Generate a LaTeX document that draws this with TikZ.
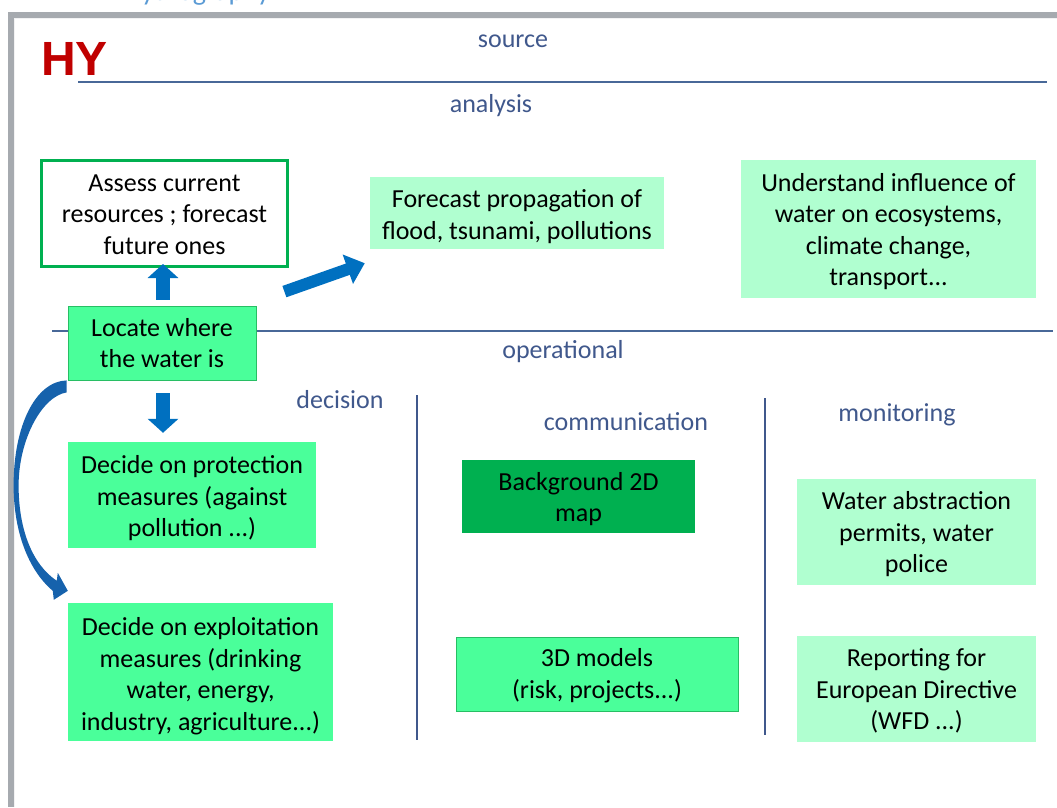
\documentclass[tikz,border=0pt]{standalone}
\usepackage{fontspec}
\setmainfont{Carlito}
\newfontfamily\hyfont{Liberation Sans}
\usetikzlibrary{arrows.meta}
\definecolor{lblue}{RGB}{64,88,140}
\definecolor{rulec}{RGB}{72,104,152}
\definecolor{mint}{RGB}{176,255,208}
\definecolor{mgreen}{RGB}{74,255,154}
\definecolor{dgreen}{RGB}{0,176,80}
\definecolor{bordg}{RGB}{40,190,100}
\definecolor{arrowb}{RGB}{0,112,192}
\definecolor{carrowb}{RGB}{22,98,172}
\definecolor{framec}{RGB}{166,170,175}
\definecolor{topblue}{RGB}{91,155,213}
\definecolor{hyred}{RGB}{192,0,0}
\newcommand\bxfont{\fontsize{26}{31.5}\selectfont}
\newcommand\lowtext[2][3pt]{\raisebox{-#1}[\height][\depth]{\begin{tabular}{@{}c@{}}#2\end{tabular}}}
\tikzset{
  box/.style={align=center, inner sep=0pt, font=\bxfont, text=black},
  mintbox/.style={box, fill=mint},
  greenbox/.style={box, fill=mgreen},
  lbl/.style={anchor=base, font=\bxfont, text=lblue, inner sep=0pt},
  barrow/.style={draw=arrowb, line width=14pt, -{Triangle[length=14pt,width=30pt]}},
  darrow/.style={draw=arrowb, line width=12pt, -{Triangle[length=18pt,width=30pt]}},
  carrow/.style={fill=carrowb},
  hrule/.style={draw=rulec, line width=1.6pt},
  vrule/.style={draw=lblue, line width=1.4pt}
}
\begin{document}
\begin{tikzpicture}[x=1pt,y=-1pt]
\useasboundingbox (0,0) rectangle (1057,807);
\fill[white] (0,0) rectangle (1057,807);
% cut-off title at the very top
\node[anchor=base west, inner sep=0pt, font=\fontsize{28}{30}\selectfont, text=topblue] (title) at (124,0) {Hydrography};
% frame
\fill[framec] (8,12) rectangle (1057,18);
\fill[framec] (8,12) rectangle (14,807);
\draw[white!85!framec, line width=1pt] (14,18.5) -- (1057,18.5);
\draw[white!85!framec, line width=1pt] (14.5,18) -- (14.5,807);
% HY
\node[anchor=base west, inner sep=0pt, font=\hyfont\bfseries\fontsize{48}{50}\selectfont, text=hyred] (hy) at (41,75) {HY};
% rules
\draw[hrule] (78,82) -- (1047,82);
\draw[hrule] (52,331) -- (1053,331);
\draw[vrule] (417,395) -- (417,740);
\draw[vrule] (765,398) -- (765,735);
% labels
\node[lbl] (lsource) at (513,47) {source};
\node[lbl] (lanalysis) at (491,112) {analysis};
\node[lbl] (loper) at (563,358) {operational};
\node[lbl] (ldecision) at (340,408) {decision};
\node[lbl] (lcomm) at (626,430) {communication};
\node[lbl] (lmonit) at (897,421) {monitoring};
% boxes
\node[box, draw=dgreen, line width=3pt, fill=white, minimum width=246pt, minimum height=106pt] (ass) at (164.5,213.5)
  {\lowtext[3pt]{Assess current\\resources ; forecast\\future ones}};
\node[mintbox, minimum width=294pt, minimum height=72pt] (fc) at (517,213) {\lowtext[4pt]{Forecast propagation of\\flood, tsunami, pollutions}};
\node[mintbox, minimum width=295pt, minimum height=138pt] (und) at (888.5,229)
  {\lowtext{Understand influence of\\water on ecosystems,\\climate change,\\transport...}};
\node[greenbox, draw=bordg, line width=0.8pt, minimum width=188pt, minimum height=74pt] (loc) at (162,343) {\lowtext[2.5pt]{Locate where\\the water is}};
\node[greenbox, minimum width=248pt, minimum height=106pt] (prot) at (192,495)
  {\lowtext[4pt]{Decide on protection\\measures (against\\pollution ...)}};
\node[greenbox, minimum width=265pt, minimum height=138pt] (expl) at (200.5,672)
  {\lowtext[4.5pt]{Decide on exploitation\\measures (drinking\\water, energy,\\industry, agriculture...)}};
\node[box, fill=dgreen, minimum width=233pt, minimum height=73pt] (bg) at (578.5,496.5) {\lowtext{Background 2D\\map}};
\node[greenbox, draw=bordg, line width=0.8pt, minimum width=282pt, minimum height=74pt] (m3d) at (597,674) {\lowtext[2pt]{3D models\\(risk, projects...)}};
\node[mintbox, minimum width=239pt, minimum height=106pt] (wat) at (916.5,532)
  {\lowtext{Water abstraction\\permits, water\\police}};
\node[mintbox, minimum width=239pt, minimum height=106pt] (rep) at (916.5,689)
  {\lowtext[3pt]{Reporting for\\European Directive\\(WFD ...)}};
% arrows
\draw[barrow] ([xshift=1pt,yshift=6pt]loc.north) -- ([xshift=1pt,yshift=4pt]loc.north |- ass.south);
\draw[barrow] ([xshift=1pt,yshift=-13pt]loc.south) -- ([xshift=1pt,yshift=9pt]loc.south |- prot.north);
\draw[darrow] ([shift={(28,-14)}]loc.north east) -- ([shift={(-5,14)}]fc.south west);
\fill[carrow] ([shift={(-1,0)}]loc.south west) -- ([shift={(-1,12)}]loc.south west)
 .. controls ([shift={(-26,16)}]loc.south west) and ([shift={(-49,60)}]loc.south west) .. ([shift={(-49,105)}]loc.south west)
 .. controls ([shift={(-49,150)}]loc.south west) and ([shift={(-35,-38)}]expl.north west) .. ([shift={(-11,-22)}]expl.north west)
 -- ([shift={(-10,-30)}]expl.north west) -- ([shift={(0,-12)}]expl.north west) -- ([shift={(-14,-3)}]expl.north west) -- ([shift={(-15,-12)}]expl.north west)
 .. controls ([shift={(-40,-33)}]expl.north west) and ([shift={(-54,150)}]loc.south west) .. ([shift={(-54,105)}]loc.south west)
 .. controls ([shift={(-54,45)}]loc.south west) and ([shift={(-32,1)}]loc.south west) .. cycle;
\end{tikzpicture}
\end{document}
